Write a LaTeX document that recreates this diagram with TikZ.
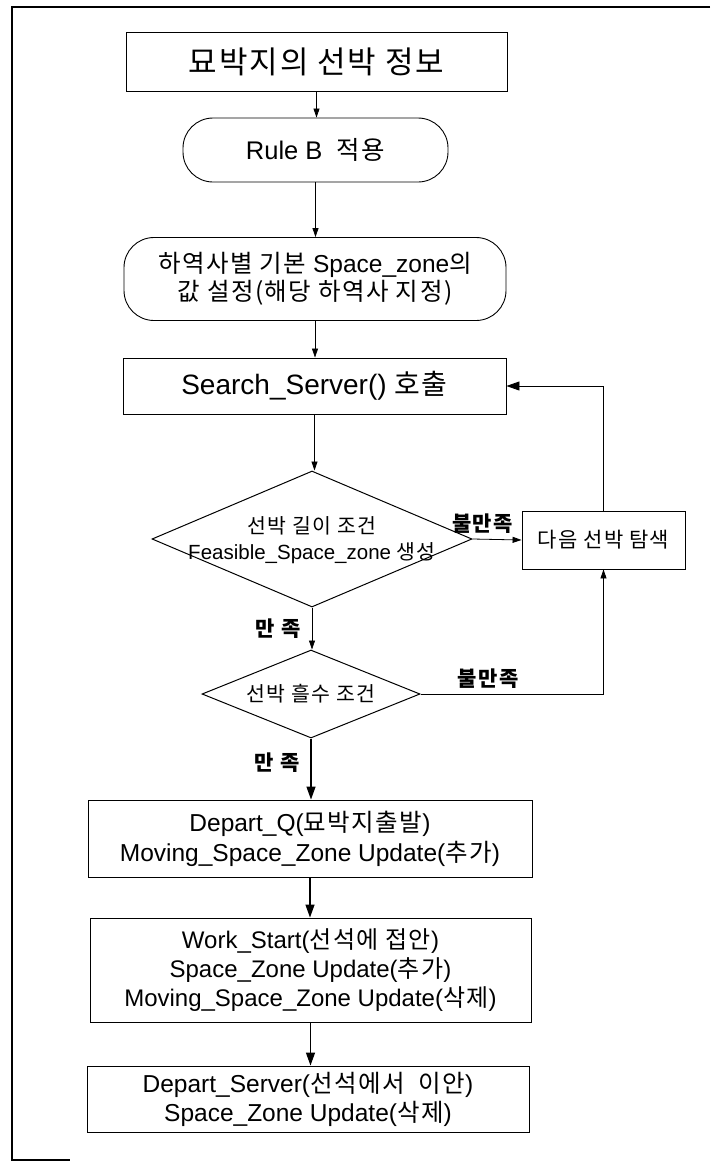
\documentclass[tikz,border=0pt]{standalone}
\usepackage{fontspec}
\setmainfont{Liberation Sans}
\newfontfamily\kr[LetterSpace=6]{Noto Sans CJK KR}
\usetikzlibrary{shapes.geometric,arrows.meta}
\newcommand{\kor}[1]{{\kr #1}}
\begin{document}
\begin{tikzpicture}[x=1pt,y=-1pt,
  box/.style={draw, line width=0.9pt, inner sep=0pt, align=center},
  rbox/.style={box, rounded corners=30pt},
  dia/.style={diamond, draw, line width=1pt, inner sep=0pt},
  arr/.style={-{Triangle[length=9pt,width=6pt]}, line width=0.8pt},
  barr/.style={-{Triangle[length=13pt,width=9pt]}, line width=1.3pt},
  lbl/.style={inner sep=1pt, font=\fontsize{21}{23}\selectfont\kr\bfseries},
  frame/.style={line width=1.1pt}]
\useasboundingbox (0,0) rectangle (710,1162);
% partial scan frame
\coordinate (ftl) at (12,7);
\coordinate (ftr) at (710,7);
\coordinate (fbl) at (12,1160);
\coordinate (fbr) at (70,1160);
\draw[frame] (ftr) -- (ftl) -- (fbl) -- (fbr);

\node[box, minimum width=381pt, minimum height=59pt, font=\fontsize{31}{34}\selectfont]
  (b1) at (316.5,61.5) {\kor{묘박지의 선박 정보}};
\node[rbox, minimum width=265pt, minimum height=64pt, font=\fontsize{25.5}{30}\selectfont]
  (rb) at (315.5,150) {Rule B \ \kor{적용}};
\node[rbox, minimum width=382pt, minimum height=83pt, font=\fontsize{24.5}{28}\selectfont]
  (b3) at (315,279) {\kor{하역사별 기본} Space\_zone\kor{의}\\\kor{값 설정(해당 하역사 지정)}};
\node[box, minimum width=383pt, minimum height=56pt, font=\fontsize{28}{32}\selectfont]
  (ss) at (314.5,386) {Search\_Server() \kor{호출}};
\node[dia, minimum width=320pt, minimum height=136pt] (d1) at (312,539) {};
\node[align=center, inner sep=0pt, font=\fontsize{20.5}{26}\selectfont]
  (d1t) at (312,540) {\kor{선박 길이 조건}\\Feasible\_Space\_zone \kor{생성}};
\node[box, minimum width=163pt, minimum height=58pt, font=\fontsize{21}{24}\selectfont\kr]
  (nx) at (603.5,540) {다음 선박 탐색};
\node[dia, minimum width=218pt, minimum height=88pt] (d2) at (311,694) {};
\node[inner sep=0pt, font=\fontsize{20.5}{24}\selectfont\kr] (d2t) at (311,694) {선박 흘수 조건};
\node[box, minimum width=444pt, minimum height=77pt, font=\fontsize{24.5}{30}\selectfont]
  (dq) at (310,838.5) {Depart\_Q(\kor{묘박지출발})\\Moving\_Space\_Zone Update(\kor{추가})};
\node[box, minimum width=441pt, minimum height=104pt, font=\fontsize{24}{29}\selectfont]
  (ws) at (310.5,970) {Work\_Start(\kor{선석에 접안})\\Space\_Zone Update(\kor{추가})\\Moving\_Space\_Zone Update(\kor{삭제})};
\node[box, minimum width=442pt, minimum height=66pt, font=\fontsize{24.5}{29}\selectfont]
  (ds) at (308,1099) {Depart\_Server(\kor{선석에서 \ 이안})\\Space\_Zone Update(\kor{삭제})};

\draw[arr] (b1.south) -- (b1.south |- rb.north);
\draw[arr] (rb.south) -- (rb.south |- b3.north);
\draw[arr] (b3.south) -- (b3.south |- ss.north);
\draw[arr] (ss.south) -- (ss.south |- d1.north);
\draw[arr] (d1.south) -- node[lbl, midway, left=10pt] {만 족} (d1.south |- d2.north);
\draw[barr] (d2.south) -- node[lbl, pos=0.4, left=10pt] {만 족} (d2.south |- dq.north);
\draw[barr] (dq.south) -- (dq.south |- ws.north);
\draw[barr] (ws.south) -- (ws.south |- ds.north);
\draw[arr] (d1.east) -- node[lbl, pos=0.2, above=4pt] {불만족} (nx.west);
\draw[arr] (d2.east) -- node[lbl, pos=0.37, above=4pt] {불만족} (d2.east -| nx.south) -- (nx.south);
\draw[barr, line width=0.9pt] (nx.north) -- (nx.north |- ss.east) -- (ss.east);
\end{tikzpicture}
\end{document}
